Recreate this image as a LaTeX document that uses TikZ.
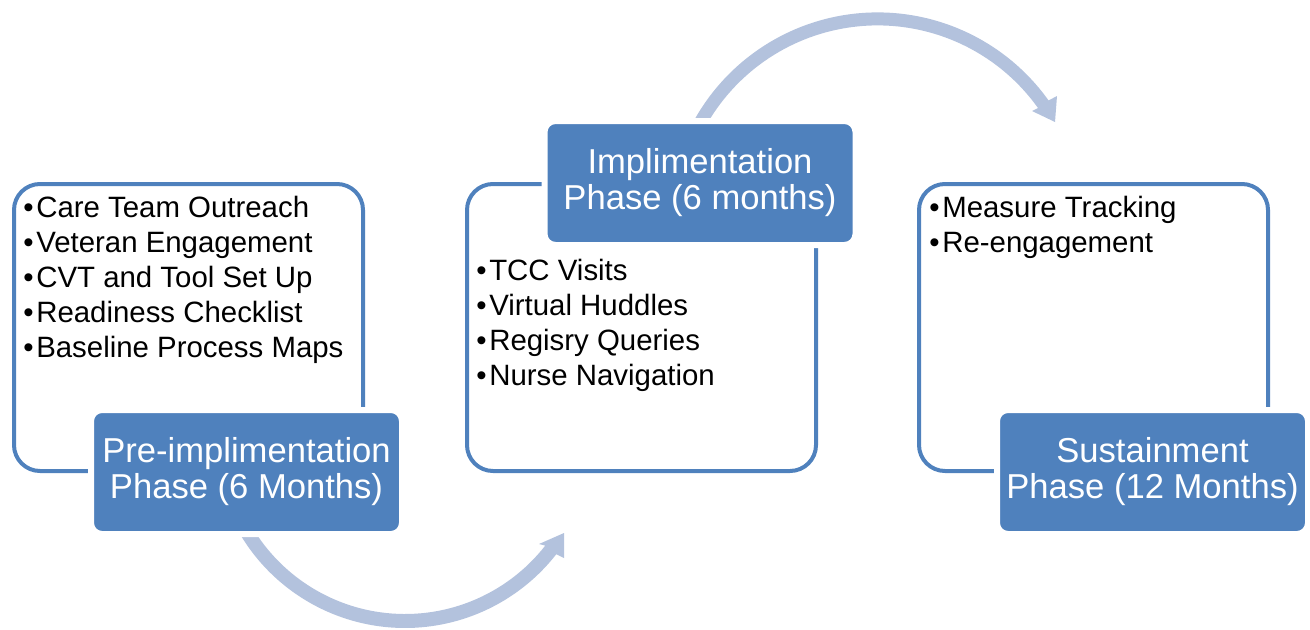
\documentclass[tikz,border=0pt]{standalone}
\usepackage{fontspec}
\setmainfont{Liberation Sans}
\usetikzlibrary{calc}
\definecolor{accent}{RGB}{79,129,189}
\definecolor{arrowc}{RGB}{179,194,221}
\newcommand\itm{•\kern1.3pt}
\begin{document}
\begin{tikzpicture}[x=0.5pt,y=0.5pt,
 panel/.style={draw=accent, line width=2pt, rounded corners=13pt, minimum width=174.5pt, minimum height=143.5pt, inner sep=0pt},
 phase/.style={fill=accent, draw=white, line width=3pt, rounded corners=5.5pt, minimum width=155.5pt, minimum height=62pt, text=white, align=center, font=\fontsize{17.3}{18}\selectfont, inner sep=0pt},
 items/.style={anchor=north west, inner sep=0pt, align=left, font=\fontsize{14.7}{17.5}\selectfont},
 flow/.style={fill=arrowc, draw=none}]
\useasboundingbox (0,0) rectangle (1310,629);
% connectors (curved arrows)
\coordinate (c1) at (405,193);
\coordinate (c2) at (877.6,406.6);
\fill[flow] ($(c1)+(211.4:192)$) arc[start angle=211.4, end angle=322, radius=192]
  -- (564,71) -- (564,96) -- (539,85)
  -- ($(c1)+(322:178)$) arc[start angle=322, end angle=214.2, radius=178] -- cycle;
\fill[flow] ($(c2)+(150.2:210)$) arc[start angle=150.2, end angle=35.5, radius=210]
  -- (1057,533) -- (1055,507) -- (1032,518)
  -- ($(c2)+(35.5:197)$) arc[start angle=35.5, end angle=148, radius=197] -- cycle;
% panels
\node[panel] (p1) at (188.5,301.5) {};
\node[panel] (p2) at (641.5,301.5) {};
\node[panel] (p3) at (1093.5,301.5) {};
% item lists
\node[items] (l1) at (23,433) {\itm Care Team Outreach\\\itm Veteran Engagement\\\itm CVT and Tool Set Up\\\itm Readiness Checklist\\\itm Baseline Process Maps};
\node[items] (l2) at (476,370) {\itm TCC Visits\\\itm Virtual Huddles\\\itm Regisry Queries\\\itm Nurse Navigation};
\node[items] (l3) at (929,433) {\itm Measure Tracking\\\itm Re-engagement};
% phase headers
\node[phase] (h1) at (246.5,157) {Pre-implimentation\\Phase (6 Months)};
\node[phase] (h2) at (700,446) {Implimentation\\Phase (6 months)};
\node[phase] (h3) at (1152.5,157) {Sustainment\\Phase (12 Months)};
\end{tikzpicture}
\end{document}
